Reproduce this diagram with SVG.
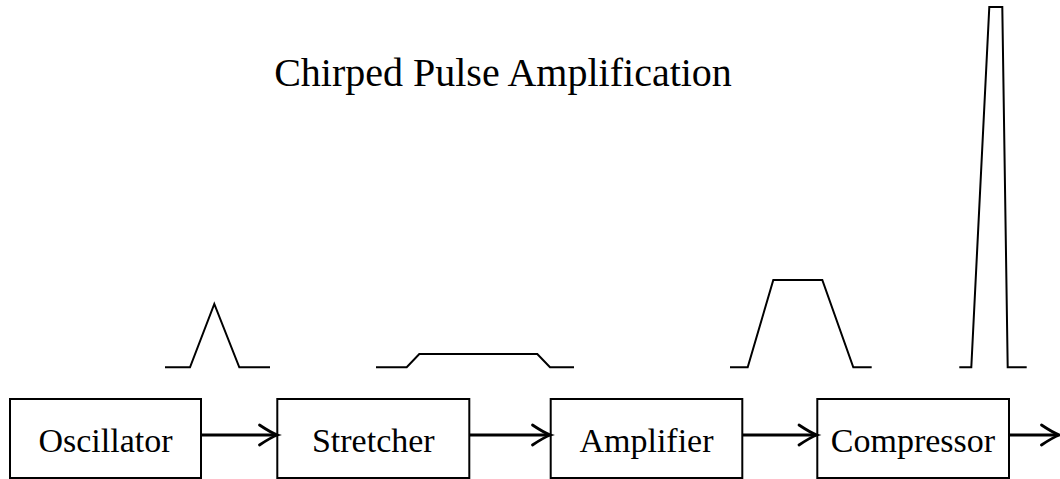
<svg xmlns="http://www.w3.org/2000/svg" width="1060" height="479" viewBox="0 0 1060 479">
<style>
.box{fill:#fff;stroke:#000;stroke-width:2}
.lbl{font-family:"Liberation Serif",serif;font-size:34px;fill:#000}
.pulse{fill:none;stroke:#000;stroke-width:2;stroke-linejoin:miter}
.conn{fill:none;stroke:#000;stroke-width:2.8}
.head{fill:none;stroke:#000;stroke-width:2.8;stroke-linecap:round}
</style>
<defs>
<path id="ah" d="M-18,-10 Q-6,-2 0,0 Q-6,2 -18,10"/>
</defs>
<rect width="1060" height="479" fill="#fff"/>
<text x="503" y="86" text-anchor="middle" font-family="Liberation Serif, serif" font-size="40">Chirped Pulse Amplification</text>
<g id="pulses">
<polyline class="pulse" points="165,367.3 190,367.3 214.3,304 239.3,367.3 270,367.3"/>
<polyline class="pulse" points="376,367.3 406.7,367.3 419.3,354 537.3,354 550,367.3 574,367.3"/>
<polyline class="pulse" points="730,367.3 747.7,367.3 773.3,280 822.3,280 853.3,367.3 871.7,367.3"/>
<polyline class="pulse" points="959.3,367.3 971.3,367.3 989.3,7 1002.3,7 1007.7,367.3 1026.7,367.3"/>
</g>
<g id="oscillator"><rect class="box" x="10" y="399" width="191" height="79"/><text class="lbl" x="105.5" y="452" text-anchor="middle">Oscillator</text></g>
<g id="stretcher"><rect class="box" x="277.3" y="399" width="192" height="79"/><text class="lbl" x="373.3" y="452" text-anchor="middle">Stretcher</text></g>
<g id="amplifier"><rect class="box" x="550.7" y="399" width="191.6" height="79"/><text class="lbl" x="646.5" y="452" text-anchor="middle">Amplifier</text></g>
<g id="compressor"><rect class="box" x="817.3" y="399" width="191.7" height="79"/><text class="lbl" x="913" y="452" text-anchor="middle">Compressor</text></g>
<g id="connectors">
<line class="conn" x1="201" y1="435" x2="276" y2="435"/>
<use href="#ah" class="head" transform="translate(277.5,435)"/>
<line class="conn" x1="469.3" y1="435" x2="549" y2="435"/>
<use href="#ah" class="head" transform="translate(550.5,435)"/>
<line class="conn" x1="742.3" y1="435" x2="815.5" y2="435"/>
<use href="#ah" class="head" transform="translate(817,435)"/>
<line class="conn" x1="1009" y1="435" x2="1058" y2="435"/>
<use href="#ah" class="head" transform="translate(1059.5,435)"/>
</g>
</svg>
